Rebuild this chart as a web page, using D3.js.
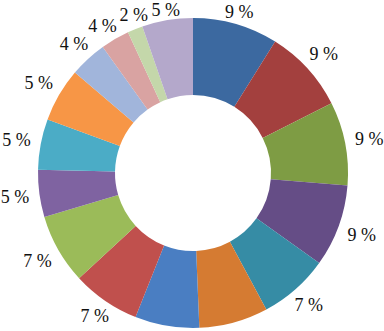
<!DOCTYPE html>
<html>
<head>
<meta charset="utf-8">
<script src="https://cdn.jsdelivr.net/npm/d3@7"></script>
<style>
  html, body { margin: 0; padding: 0; background: #fff; }
  svg { display: block; }
</style>
</head>
<body>
<div id="chart"></div>
<script>
// --- Data (clockwise from 12 o'clock) ---
const sliceValues = [8.9, 8.7, 8.7, 8.6, 7.3, 7.2, 6.7, 7.1, 7.3, 4.9, 5.3, 5.6, 3.9, 3.0, 1.6, 5.3];
// the two bottom labels fall outside the picture in the reference
const sliceLabels = ["9 %", "9 %", "9 %", "9 %", "7 %", "", "", "7 %", "7 %", "5 %", "5 %", "5 %", "4 %", "4 %", "2 %", "5 %"];
const sliceColors = [
    "#3c69a0", "#a3403e", "#7e9c44", "#654d86", "#368ca5", "#d57b32",
    "#4a7ec2", "#c0504d", "#9bbb59", "#7f63a1", "#4bacc6", "#f79646",
    "#a1b5db", "#d9a3a2", "#c4d7aa", "#b4a8cb"
];

// --- Layout ---
const W = 384, H = 331;
const CX = 193, CY = 173;
const R_OUTER = 155, R_INNER = 78;
// half label box + gap, sideways and up/down
const LABEL_HX = 24, LABEL_HY = 6;
const BOX_W = 29, BOX_H = 13, BOX_GAP = 2;

const svg = d3.select("#chart").append("svg")
    .attr("width", W)
    .attr("height", H);

const g = svg.append("g")
    .attr("transform", `translate(${CX}, ${CY})`);

const pie = d3.pie()
    .value(d => d)
    .sort(null);

const arc = d3.arc()
    .innerRadius(R_INNER)
    .outerRadius(R_OUTER);

const arcs = pie(sliceValues);

g.selectAll("path.slice")
    .data(arcs)
    .enter()
    .append("path")
    .attr("class", "slice")
    .attr("d", arc)
    .attr("fill", (d, i) => sliceColors[i]);

// labels sit just outside the ring, pushed out by the label box extent
const labelPos = a => {
    const s = Math.sin(a), c = Math.cos(a);
    const r = R_OUTER + Math.abs(s) * LABEL_HX + Math.abs(c) * LABEL_HY;
    return [r * s, -r * c];
};

const labels = arcs
    .filter((d, i) => sliceLabels[i] !== "")
    .map(d => ({ text: sliceLabels[d.index], a: (d.startAngle + d.endAngle) / 2 }));

// nudge neighbouring labels apart along the ring until they no longer collide
const overlaps = (p, q) =>
    Math.abs(p[0] - q[0]) < BOX_W + BOX_GAP && Math.abs(p[1] - q[1]) < BOX_H + BOX_GAP;

for (let iter = 0; iter < 300; iter++) {
    let moved = false;
    for (let i = 0; i < labels.length - 1; i++) {
        const A = labels[i], B = labels[i + 1];
        if (overlaps(labelPos(A.a), labelPos(B.a))) {
            A.a -= 0.004;
            B.a += 0.004;
            moved = true;
        }
    }
    if (!moved) break;
}

g.selectAll("text.lbl")
    .data(labels)
    .enter()
    .append("text")
    .attr("class", "lbl")
    .attr("x", d => labelPos(d.a)[0])
    .attr("y", d => labelPos(d.a)[1] + 6)
    .attr("text-anchor", "middle")
    .attr("font-family", "Liberation Serif")
    .attr("font-size", 18)
    .attr("fill", "#111")
    .text(d => d.text);
</script>
</body>
</html>
